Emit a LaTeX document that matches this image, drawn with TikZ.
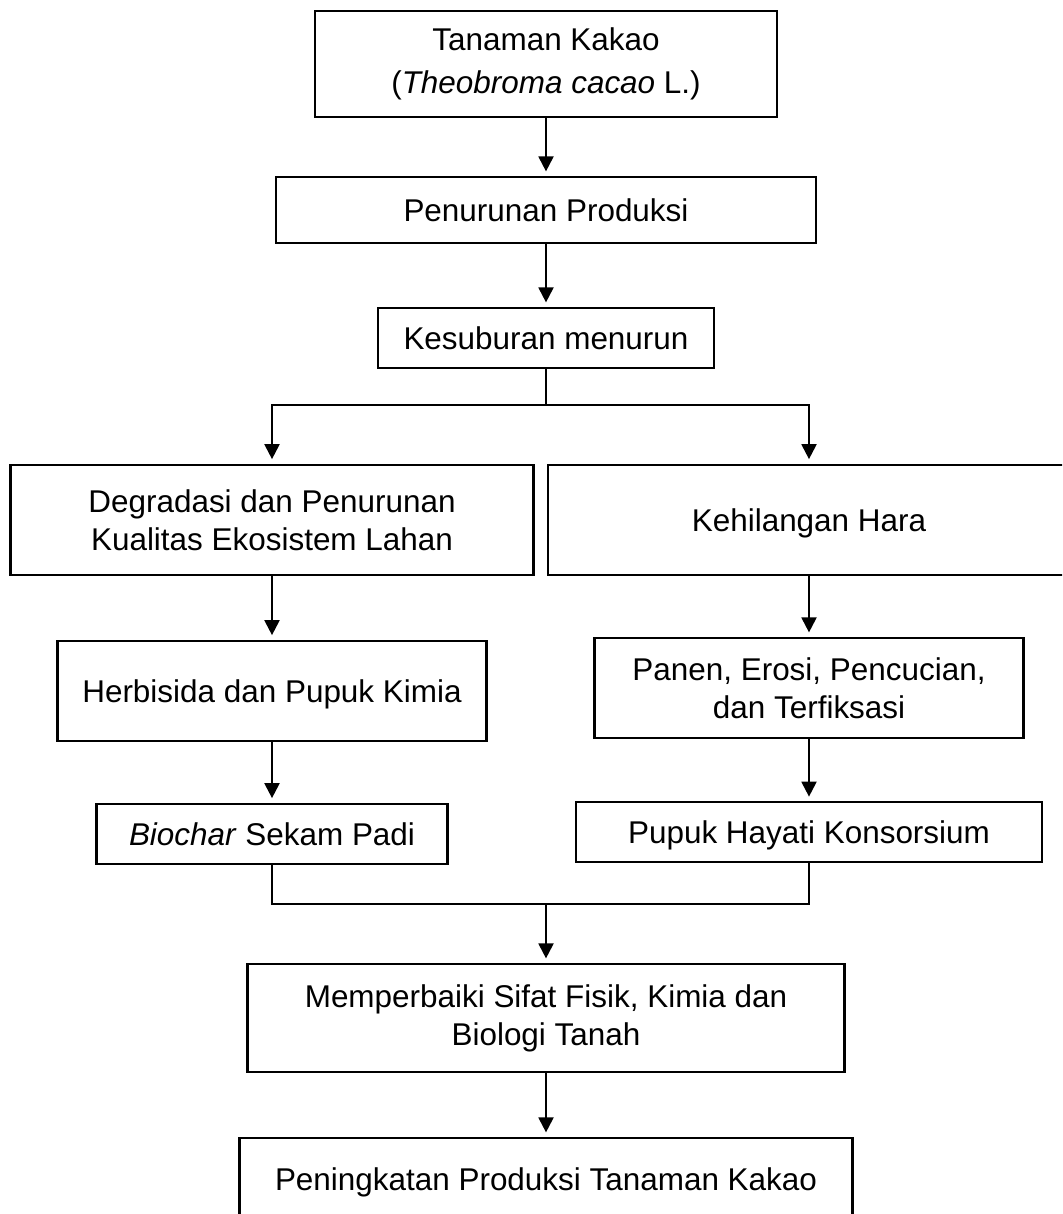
\documentclass[tikz,border=0pt]{standalone}
\usepackage{fontspec}
\setmainfont{Liberation Sans}
\usetikzlibrary{arrows.meta}

\begin{document}
\begin{tikzpicture}[->,>={Triangle[width=8.5pt,length=8.5pt]},line width=1.2pt,x=0.02cm,y=-0.02cm,
    box/.style={draw,rectangle,line width=1.4pt,inner sep=0pt,align=center,font=\fontsize{17.9}{21.6}\selectfont},
    flatbox/.style={box,text depth=0pt},
    every edge/.append style={shorten >=2.5pt}]
    \useasboundingbox (0,0) rectangle (1062,1214);
    \clip (0,0) rectangle (1062,1214);
    \node[box,minimum width=9.24cm,minimum height=2.12cm,font=\fontsize{17.9}{24.5}\selectfont]
                                                             (kakao)    at (546,64)   {Tanaman Kakao\\(\textit{Theobroma cacao} L.)};
    \node[box,minimum width=10.8cm,minimum height=1.32cm]      (turun)    at (546,210)  {Penurunan Produksi};
    \node[box,minimum width=6.72cm,minimum height=1.2cm]       (subur)    at (546,338)  {Kesuburan menurun};
    \node[box,minimum width=10.46cm,minimum height=2.21cm]     (degra)    at (272,520)  {Degradasi dan Penurunan\\Kualitas Ekosistem Lahan};
    \node[flatbox,minimum width=10.44cm,minimum height=2.21cm] (hara)     at (809,520)  {Kehilangan Hara};
    \node[flatbox,minimum width=8.58cm,minimum height=2.01cm]  (herbi)    at (272,691)  {Herbisida dan Pupuk Kimia};
    \node[box,minimum width=8.58cm,minimum height=2.0cm]       (panen)    at (809,688)  {Panen, Erosi, Pencucian,\\dan Terfiksasi};
    \node[box,minimum width=7.02cm,minimum height=1.21cm]      (biochar)  at (272,834)  {\textit{Biochar} Sekam Padi};
    \node[flatbox,minimum width=9.32cm,minimum height=1.19cm]  (hayati)   at (809,832)  {Pupuk Hayati Konsorsium};
    \node[box,minimum width=11.94cm,minimum height=2.16cm]     (perbaiki) at (546,1018) {Memperbaiki Sifat Fisik, Kimia dan\\Biologi Tanah};
    \node[flatbox,minimum width=12.26cm,minimum height=1.64cm] (tingkat)  at (546,1179) {Peningkatan Produksi Tanaman Kakao};
    \coordinate (split) at (546,405);
    \coordinate (merge) at (546,904);
    \path (kakao)    edge (turun)
          (turun)    edge (subur)
          (degra)    edge (herbi)
          (herbi)    edge (biochar)
          (hara)     edge (panen)
          (panen)    edge (hayati)
          (merge)    edge (perbaiki)
          (perbaiki) edge (tingkat);
    \draw[-] (subur) -- (split);
    \draw[shorten >=2.5pt] (split) -| (degra.north);
    \draw[shorten >=2.5pt] (split) -| (hara.north);
    \draw[-] (biochar) |- (merge);
    \draw[-] (hayati) |- (merge);
\end{tikzpicture}
\end{document}
